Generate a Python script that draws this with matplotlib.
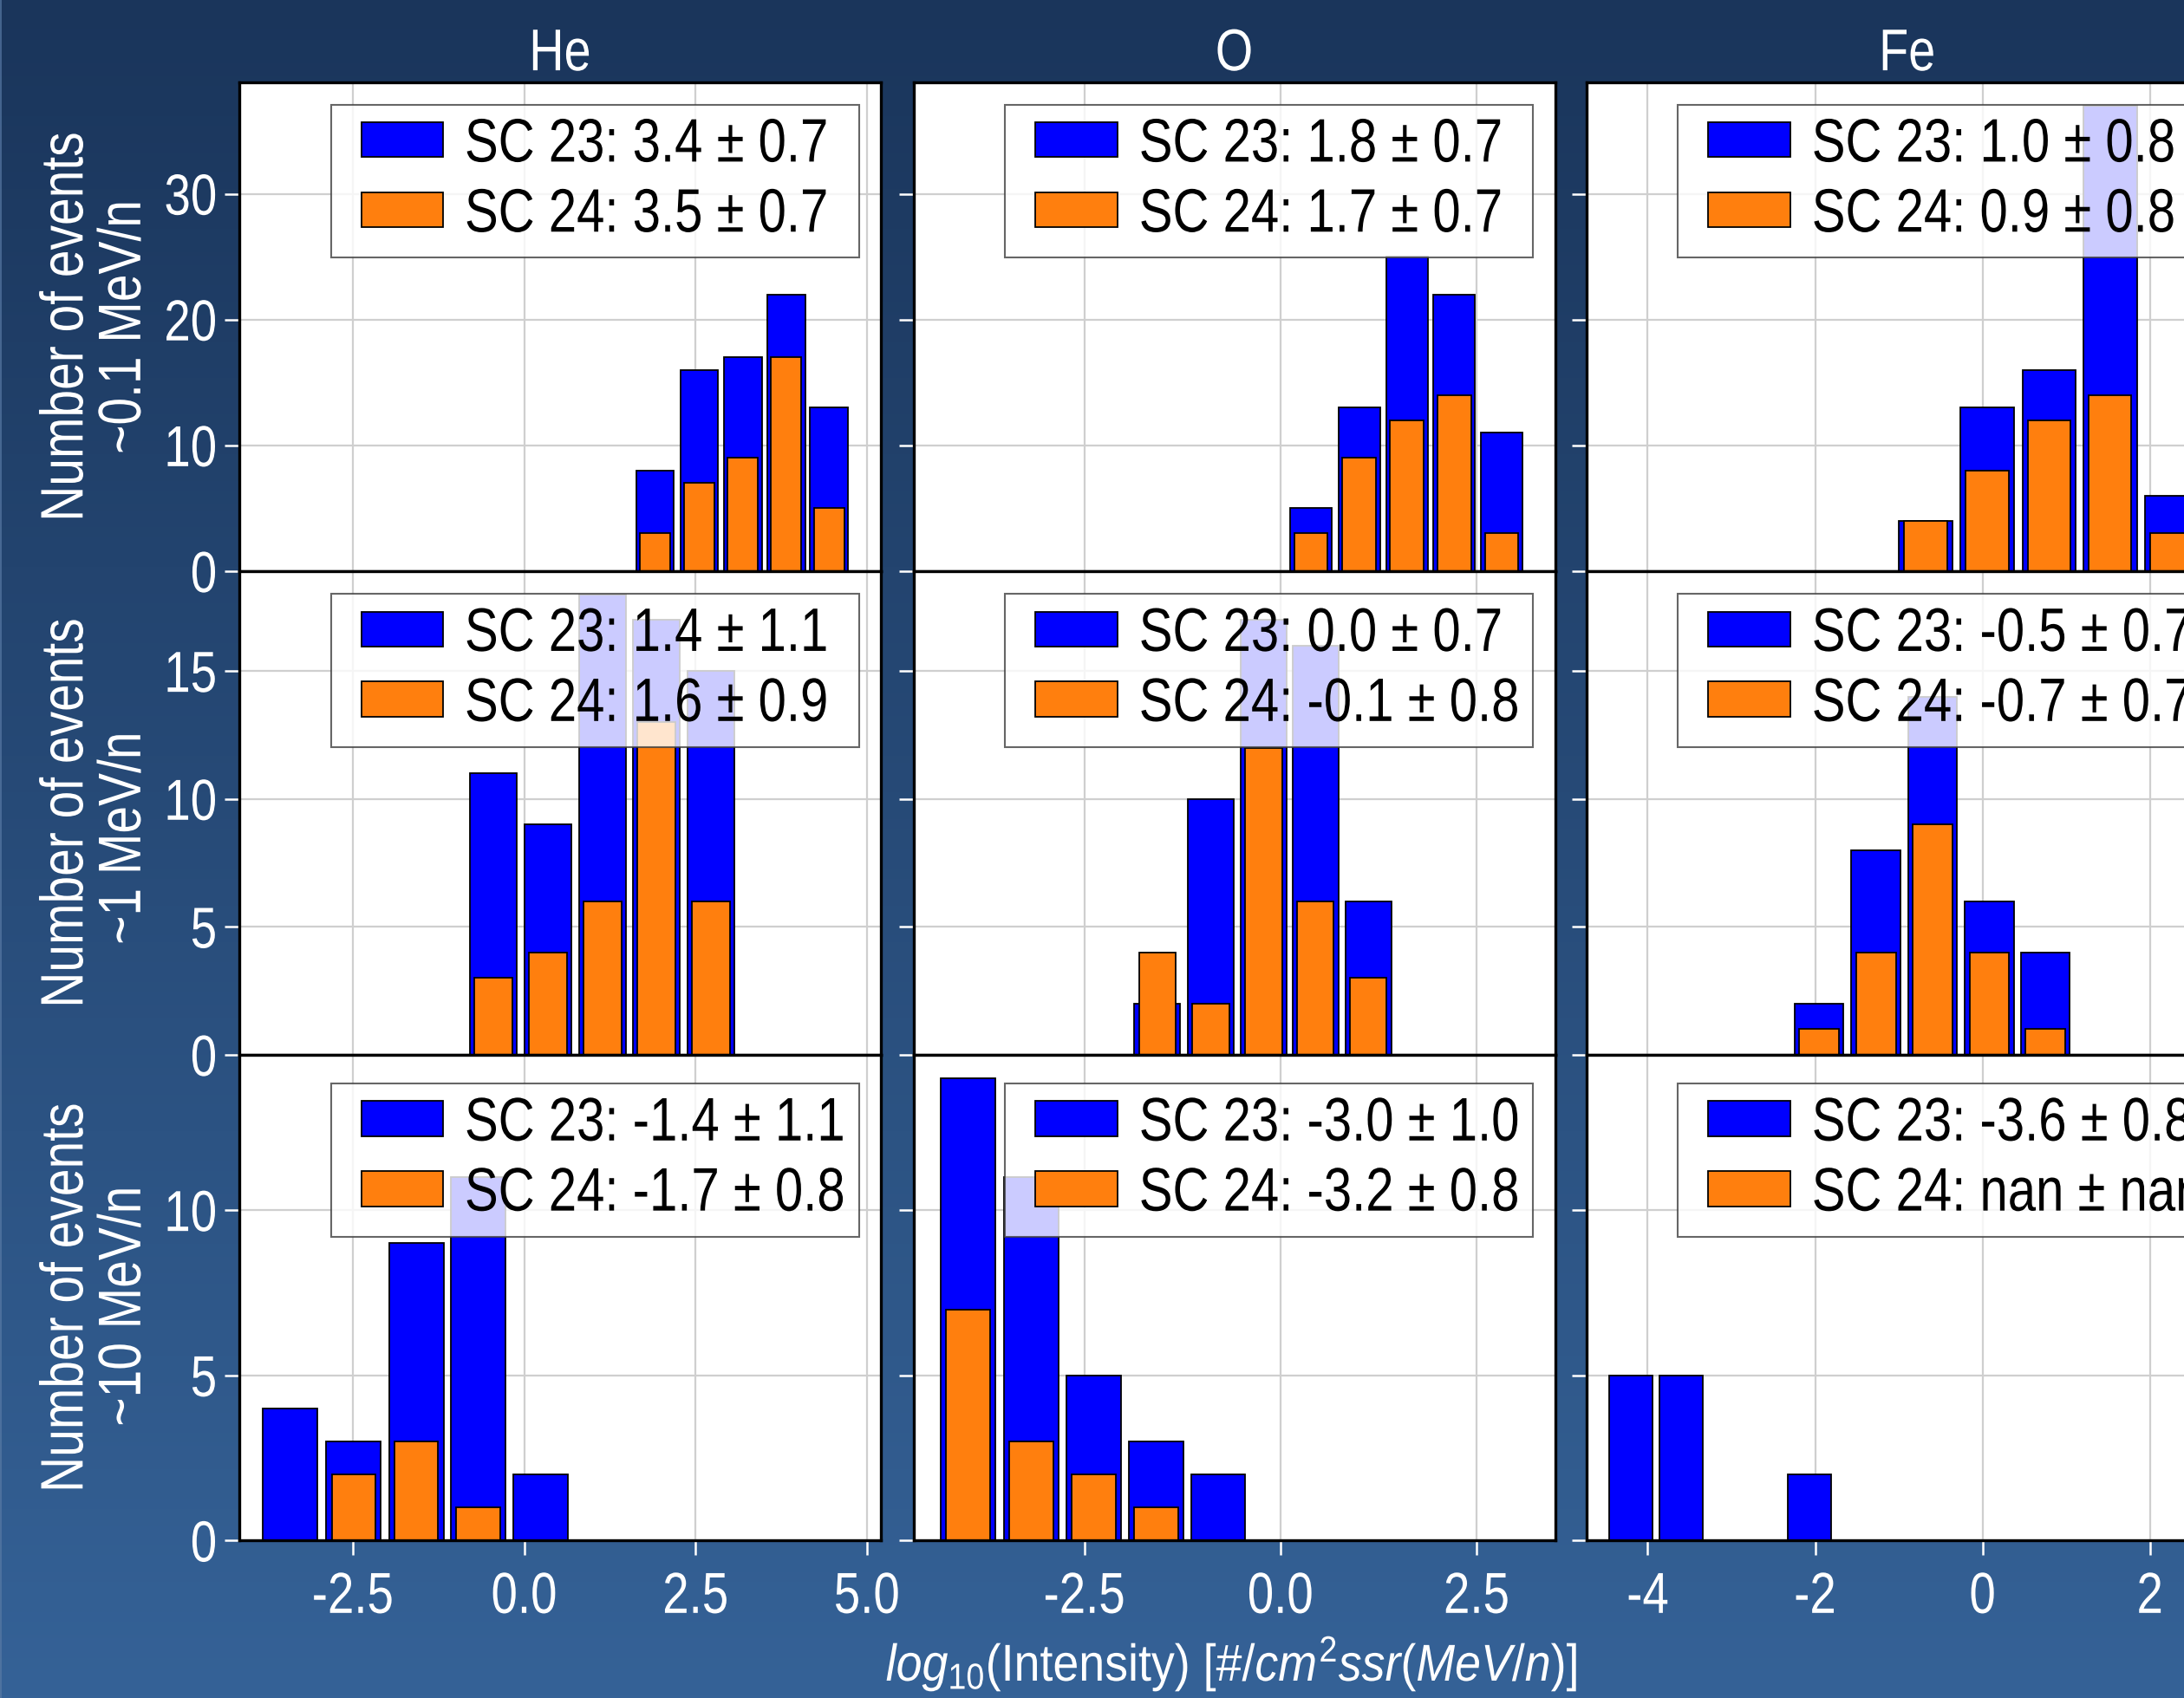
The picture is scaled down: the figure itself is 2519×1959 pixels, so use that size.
import numpy as np
import matplotlib
matplotlib.use("Agg")
import matplotlib.pyplot as plt
import matplotlib.colors as mcolors
from matplotlib import font_manager as fm
from matplotlib.patches import Rectangle
from matplotlib.lines import Line2D
from matplotlib.legend_handler import HandlerPatch
from matplotlib.ticker import MultipleLocator
from matplotlib.patheffects import AbstractPathEffect
from matplotlib.transforms import Affine2D

# ---------------- data ----------------
elements = ["He", "O", "Fe"]
energies = ["~0.1 MeV/n", "~1 MeV/n   ", "~10 MeV/n "]

# bin centres of log10(intensity), one list per energy row
he_x = [[1.909, 2.552, 3.191, 3.821, 4.447],
        [-0.448, 0.347, 1.145, 1.930, 2.725],
        [-3.412, -2.489, -1.575, -0.670, 0.244]]
he_sc23 = [[8, 16, 17, 22, 13], [11, 9, 18, 17, 15], [4, 3, 9, 11, 2]]
he_sc24 = [[3, 7, 9, 17, 5], [3, 4, 6, 13, 6], [0, 2, 3, 1, 0]]
he_binw = [0.635, 0.793, 0.914]

o_x = [[0.388, 1.004, 1.612, 2.217, 2.822],
       [-1.569, -0.891, -0.217, 0.446, 1.120],
       [-3.983, -3.178, -2.379, -1.585, -0.794]]
o_sc23 = [[5, 13, 25, 22, 11], [2, 10, 17, 16, 6], [14, 11, 5, 3, 2]]
o_sc24 = [[3, 9, 12, 14, 3], [4, 2, 12, 6, 3], [7, 3, 2, 1, 0]]
o_binw = [0.609, 0.672, 0.797]

fe_x = [[-0.683, 0.059, 0.795, 1.523, 2.259],
        [-1.954, -1.273, -0.596, 0.081, 0.749],
        [-4.198, -3.603, -2.071]]
fe_sc23 = [[4, 13, 16, 37, 6], [2, 8, 14, 6, 4], [5, 5, 2]]
fe_sc24 = [[4, 8, 12, 14, 3], [1, 4, 9, 4, 1], [0, 0, 0]]
fe_binw = [0.735, 0.676, 0.595]

# legend statistics (mean +- std of log10 intensity)
he_mean23, he_std23 = [3.4, 1.4, -1.4], [0.7, 1.1, 1.1]
he_mean24, he_std24 = [3.5, 1.6, -1.7], [0.7, 0.9, 0.8]
o_mean23, o_std23 = [1.8, 0.0, -3.0], [0.7, 0.7, 1.0]
o_mean24, o_std24 = [1.7, -0.1, -3.2], [0.7, 0.8, 0.8]
fe_mean23, fe_std23 = [1.0, -0.5, -3.6], [0.8, 0.7, 0.8]
fe_mean24, fe_std24 = [0.9, -0.7, np.nan], [0.8, 0.7, np.nan]

xlabel_text = r"$log_{10}$(Intensity) [$\#/cm^2ssr(MeV/n)$]"

panels = {
    "He": (he_x, he_sc23, he_sc24, he_binw, he_mean23, he_std23, he_mean24, he_std24),
    "O": (o_x, o_sc23, o_sc24, o_binw, o_mean23, o_std23, o_mean24, o_std24),
    "Fe": (fe_x, fe_sc23, fe_sc24, fe_binw, fe_mean23, fe_std23, fe_mean24, fe_std24),
}

# ---------------- style ----------------
names = {f.name for f in fm.fontManager.ttflist}
NARROW = "Liberation Sans Narrow" in names
FONT = "Liberation Sans Narrow" if NARROW else "Liberation Sans"
SX = 1.0 if NARROW else 0.82   # horizontal condensing (Arial Narrow look)

plt.rcParams["font.family"] = [FONT, "DejaVu Sans"]
plt.rcParams["mathtext.fontset"] = "custom"
plt.rcParams["mathtext.rm"] = FONT
plt.rcParams["mathtext.it"] = FONT + ":italic"
plt.rcParams["mathtext.bf"] = FONT + ":bold"
plt.rcParams["axes.unicode_minus"] = False


class Condense(AbstractPathEffect):
    """Draw text horizontally condensed around an anchor of each line."""

    def __init__(self, sx, anchor=0.0):
        super().__init__()
        self.sx = sx
        self.anchor = anchor

    def draw_path(self, renderer, gc, tpath, affine, rgbFace=None):
        if len(tpath.vertices) == 0:
            return
        ext = tpath.get_extents()
        pivot = ext.x0 + self.anchor * ext.width
        t = Affine2D().translate(-pivot, 0).scale(self.sx, 1).translate(pivot, 0) + affine
        renderer.draw_path(gc, tpath, t, rgbFace)


def condense(txt, anchor, sx=None):
    s = SX if sx is None else (1.0 if NARROW else sx)
    if s != 1.0:
        txt.set_path_effects([Condense(s, anchor)])


W, H, DPI = 2519, 1959, 100
fig = plt.figure(figsize=(W / DPI, H / DPI), dpi=DPI)

# background gradient
bg = fig.add_axes([0, 0, 1, 1], zorder=-10)
top_c = np.array(mcolors.to_rgb("#1a355b"))
bot_c = np.array(mcolors.to_rgb("#356297"))
g = np.linspace(0, 1, 512)[:, None, None]
img = top_c[None, None, :] * (1 - g) + bot_c[None, None, :] * g
bg.imshow(img, aspect="auto", extent=[0, 1, 0, 1], origin="upper")
bg.set_xlim(0, 1)
bg.set_ylim(0, 1)
bg.add_line(Line2D([0.0005, 0.0005], [0, 1], color="#5a7ba6", lw=1.2, alpha=0.8))
bg.set_axis_off()

col_left_px = [275.7, 1053.5, 1829.5]
col_w_px = 740.0
row_edges_px = [95.1, 659.0, 1217.0, 1777.4]
xlims = {"He": (-4.16, 5.20), "O": (-4.68, 3.50), "Fe": (-4.735, 2.93)}
xsteps = {"He": 2.5, "O": 2.5, "Fe": 2.0}
ysteps = [10, 5, 5]
leg_top = [0.9549, 0.9533, 0.9413]

BLUE = "#0000ff"
ORANGE = "#ff7f0e"
FS_TICK = 48
FS_LEG = 51


class OffsetRectHandler(HandlerPatch):
    def __init__(self, offset, **kw):
        super().__init__(**kw)
        self.offset = offset

    def create_artists(self, legend, orig_handle, xdescent, ydescent,
                       width, height, fontsize, trans):
        p = Rectangle((-xdescent + self.offset, -ydescent), width - self.offset, height)
        self.update_prop(p, orig_handle, legend)
        p.set_transform(trans)
        return [p]


axes = [[None] * 3 for _ in range(3)]
legends = []
for r in range(3):
    for c, el in enumerate(elements):
        left = col_left_px[c] / W
        bottom = 1 - row_edges_px[r + 1] / H
        height = (row_edges_px[r + 1] - row_edges_px[r]) / H
        kw = {}
        if c > 0:
            kw["sharey"] = axes[r][0]
        if r > 0:
            kw["sharex"] = axes[0][c]
        ax = fig.add_axes([left, bottom, col_w_px / W, height], **kw)
        axes[r][c] = ax

        xs, s23, s24, bw, m23, sd23, m24, sd24 = panels[el]
        ax.set_facecolor("white")
        ax.set_axisbelow(True)
        ax.grid(True, color="#cfcfcf", lw=1.6)
        b1 = ax.bar(xs[r], s23[r], width=bw[r] * 0.87, color=BLUE,
                    edgecolor="black", lw=1.3)
        b2 = ax.bar(xs[r], s24[r], width=bw[r] * 0.70, color=ORANGE,
                    edgecolor="black", lw=1.3)
        lab1 = f"SC 23: {m23[r]:.1f} ± {sd23[r]:.1f}"
        lab2 = f"SC 24: {m24[r]:.1f} ± {sd24[r]:.1f}"

        ax.set_xlim(*xlims[el])
        ax.xaxis.set_major_locator(MultipleLocator(xsteps[el]))
        ax.yaxis.set_major_locator(MultipleLocator(ysteps[r]))
        for sp in ax.spines.values():
            sp.set_linewidth(2.4)
            sp.set_color("black")
        ax.tick_params(axis="both", direction="out", colors="white",
                       labelcolor="white", labelsize=FS_TICK, length=12.5, width=1.8)
        ax.tick_params(axis="y", pad=5.5)
        ax.tick_params(axis="x", pad=13)
        if r < 2:
            ax.tick_params(axis="x", length=0, labelbottom=False)
        if c > 0:
            ax.tick_params(axis="y", labelleft=False)

        leg = ax.legend(handles=[b1.patches[0], b2.patches[0]], labels=[lab1, lab2],
                        loc="upper left",
                        bbox_to_anchor=(0.1432, leg_top[r], 0.823, 0.0),
                        mode="expand", borderaxespad=0.0, fontsize=FS_LEG,
                        fancybox=False, edgecolor="#404040", framealpha=0.8,
                        borderpad=0.21, labelspacing=0.21, handlelength=1.62,
                        handleheight=0.5, handletextpad=0.34,
                        handler_map={Rectangle: OffsetRectHandler(14.4)})
        leg.get_frame().set_linewidth(1.5)
        legends.append(leg)

        if r == 0:
            ax.set_title(el, fontsize=49, color="white", pad=8)
        if c == 0:
            ax.set_ylabel(f"Number of events\n{energies[r]}", fontsize=50,
                          color="white", linespacing=1.05)
            ax.yaxis.set_label_coords(-0.135, 0.5)

axes[2][1].set_xlabel(xlabel_text, fontsize=43, color="white", labelpad=8)

# apply the condensed (narrow) text look
fig.canvas.draw()
for row in axes:
    for ax in row:
        for t in ax.get_xticklabels():
            condense(t, 0.5)
        for t in ax.get_yticklabels():
            condense(t, 1.0)
        condense(ax.title, 0.5)
        condense(ax.yaxis.label, 0.5)
condense(axes[2][1].xaxis.label, 0.47, sx=0.9)
for leg in legends:
    for t in leg.get_texts():
        condense(t, 0.0)

fig.savefig("out.png", dpi=DPI)
